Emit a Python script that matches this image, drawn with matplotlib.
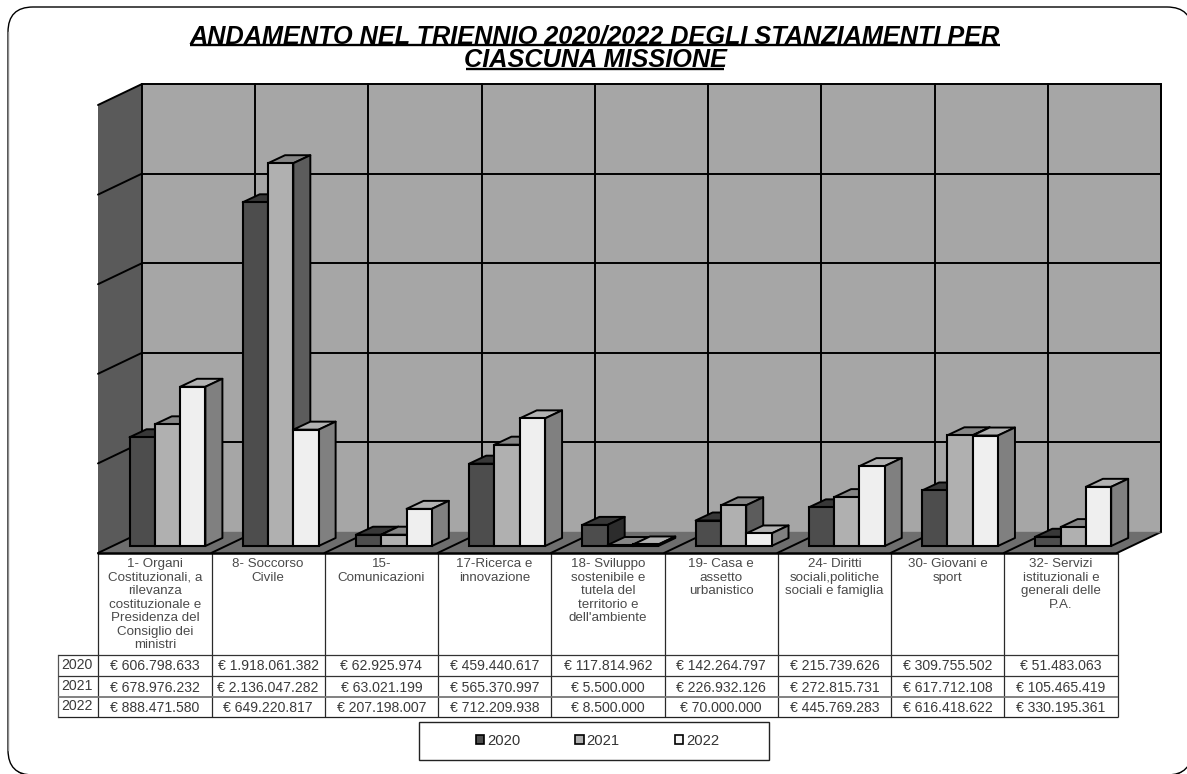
import matplotlib
matplotlib.use("Agg")
import matplotlib.pyplot as plt
from matplotlib.patches import FancyBboxPatch, Polygon, Rectangle, Patch

plt.rcParams['font.family'] = ['Liberation Sans', 'DejaVu Sans']

title_lines = ["ANDAMENTO NEL TRIENNIO 2020/2022 DEGLI STANZIAMENTI PER", "CIASCUNA MISSIONE"]
categories = [
    "1- Organi\nCostituzionali, a\nrilevanza\ncostituzionale e\nPresidenza del\nConsiglio dei\nministri",
    "8- Soccorso\nCivile",
    "15-\nComunicazioni",
    "17-Ricerca e\ninnovazione",
    "18- Sviluppo\nsostenibile e\ntutela del\nterritorio e\ndell'ambiente",
    "19- Casa e\nassetto\nurbanistico",
    "24- Diritti\nsociali,politiche\nsociali e famiglia",
    "30- Giovani e\nsport",
    "32- Servizi\nistituzionali e\ngenerali delle\nP.A.",
]
years = ["2020", "2021", "2022"]
v2020 = [606798633, 1918061382, 62925974, 459440617, 117814962, 142264797, 215739626, 309755502, 51483063]
v2021 = [678976232, 2136047282, 63021199, 565370997, 5500000, 226932126, 272815731, 617712108, 105465419]
v2022 = [888471580, 649220817, 207198007, 712209938, 8500000, 70000000, 445769283, 616418622, 330195361]
series = [v2020, v2021, v2022]
axis_max = 2.5e9
axis_step = 0.5e9

front_col = ['#4d4d4d', '#b0b0b0', '#efefef']
top_col = ['#383838', '#868686', '#b2b2b2']
side_col = ['#2c2c2c', '#5c5c5c', '#808080']

W, H = 1187, 774
fig = plt.figure(figsize=(W / 100, H / 100), dpi=100, facecolor='white')

# pixel-space layer: panel, title, table
bg = fig.add_axes([0, 0, 1, 1])
bg.set_xlim(0, W)
bg.set_ylim(H, 0)
bg.set_axis_off()
bg.add_patch(FancyBboxPatch((35, 35), 1130, 716, boxstyle="round,pad=25,rounding_size=25",
                            fc='black', ec='black', lw=1))
bg.add_patch(FancyBboxPatch((33, 32), 1134, 718, boxstyle="round,pad=25,rounding_size=25",
                            fc='white', ec='black', lw=1))
bg.plot([8, 8], [32, 750], color='#8c8c8c', lw=1)

title_y = [43, 67]
under_x = [(190, 1000), (466, 724)]
for s, y, (a, b) in zip(title_lines, title_y, under_x):
    bg.text(595, y, s, ha='center', va='baseline', fontsize=18.2, fontweight='bold',
            fontstyle='italic', color='black')
    bg.plot([a, b], [y + 2.3, y + 2.3], color='black', lw=1.7, solid_capstyle='butt')

# table
tx0, tx1 = 98.3, 1117.5
hdr_x = 58
row_y = [553, 655, 676, 697, 717]
cw = (tx1 - tx0) / len(categories)
for i in range(len(categories) + 1):
    x = tx0 + i * cw
    bg.plot([x, x], [553, 717], color='#2a2a2a', lw=0.9, solid_capstyle='butt')
bg.plot([hdr_x, hdr_x], [655, 717], color='#555555', lw=0.9)
for y, c, lw in [(655, '#333333', 0.9), (676, '#333333', 0.9), (697, '#777777', 1.3), (717, '#222222', 0.9)]:
    bg.plot([hdr_x, tx1], [y, y], color=c, lw=lw, solid_capstyle='butt')
for i, c in enumerate(categories):
    bg.text(tx0 + (i + 0.5) * cw, 558, c, ha='center', va='top', fontsize=9.6,
            color='#4a4a4a', linespacing=1.17)
for r, (yr, vals) in enumerate(zip(years, series)):
    ym = (row_y[r + 1] + row_y[r + 2]) / 2
    bg.text(77, ym - 0.5, yr, ha='center', va='center', fontsize=10.2, color='#3a3a3a')
    for i, v in enumerate(vals):
        bg.text(tx0 + (i + 0.5) * cw, ym + 1, "€ " + f"{v:,}".replace(",", "."), ha='center',
                va='center', fontsize=10.1, color='#3a3a3a')

# legend frame
bg.add_patch(Rectangle((419, 722), 350, 38, fc='white', ec='#222222', lw=1))

# chart layer: front plane of the 3D box
px_left, px_right, px_bottom, px_height = 98, 1117, 553, 448
ax = fig.add_axes([px_left / W, (H - px_bottom) / H, (px_right - px_left) / W, px_height / H])
ax.set_xlim(0, len(categories))
ax.set_ylim(0, axis_max)
ax.set_axis_off()
ax.patch.set_visible(False)

ux = (px_right - px_left) / len(categories)   # px per category
uy = px_height / axis_max                     # px per value unit
wall_dx, wall_dy = 44 / ux, 21 / uy
bar_dx, bar_dy = 17 / ux, 8 / uy
base = 7 / uy
bar_w = 25.3 / ux
bar_start = 31.5 / ux
n = len(categories)


def poly(pts, fc, z, ec='none', lw=0):
    ax.add_patch(Polygon(pts, closed=True, fc=fc, ec=ec, lw=lw, zorder=z, clip_on=False, joinstyle='round'))


def line(xs, ys, z=3, c='black', lw=1.4):
    ax.plot(xs, ys, color=c, lw=lw, zorder=z, clip_on=False, solid_capstyle='round')


poly([(wall_dx, wall_dy), (n + wall_dx, wall_dy), (n + wall_dx, axis_max + wall_dy), (wall_dx, axis_max + wall_dy)], '#a6a6a6', 1)
poly([(0, 0), (wall_dx, wall_dy), (wall_dx, axis_max + wall_dy), (0, axis_max)], '#5a5a5a', 1)
poly([(0, 0), (n, 0), (n + wall_dx, wall_dy), (wall_dx, wall_dy)], '#6e6e6e', 2)

level = 0.0
while level <= axis_max:
    if level > 0:
        line([wall_dx, n + wall_dx], [level + wall_dy] * 2)
        line([0, wall_dx], [level, level + wall_dy])
    level += axis_step
for i in range(n + 1):
    line([i + wall_dx] * 2, [wall_dy, axis_max + wall_dy])
    line([i, i + wall_dx], [0, wall_dy])
line([0, n], [0, 0], lw=1.8)
line([wall_dx, n + wall_dx], [wall_dy, wall_dy], c='#6e6e6e', lw=1)
line([n + wall_dx, n + wall_dx], [wall_dy, axis_max + wall_dy], lw=1.4)

z = 5
for i in range(n):
    for s, vals in enumerate(series):
        left = i + bar_start + s * bar_w
        right = left + bar_w
        top = base + vals[i]
        poly([(left, top), (right, top), (right + bar_dx, top + bar_dy), (left + bar_dx, top + bar_dy)],
             top_col[s], z, 'black', 1.4)
        poly([(right, base), (right + bar_dx, base + bar_dy), (right + bar_dx, top + bar_dy), (right, top)],
             side_col[s], z, 'black', 1.4)
        ax.bar(left, vals[i], width=bar_w, bottom=base, align='edge', color=front_col[s],
               edgecolor='black', linewidth=1.5, zorder=z + 0.5, clip_on=False)
        z += 1

handles = [Patch(fc=c, ec='black', lw=1.2, label=y) for c, y in zip(['#4d4d4d', '#b0b0b0', '#f5f5f5'], years)]
leg = fig.legend(handles=handles, loc='center', bbox_to_anchor=(597.5 / W, 1 - 741 / H), ncol=3,
                 frameon=False, fontsize=10.6, handlelength=0.58, handleheight=0.58,
                 handletextpad=0.2, columnspacing=3.72, borderpad=0)
for t in leg.get_texts():
    t.set_color('#333333')

fig.savefig("out.png", dpi=100, facecolor='white')
